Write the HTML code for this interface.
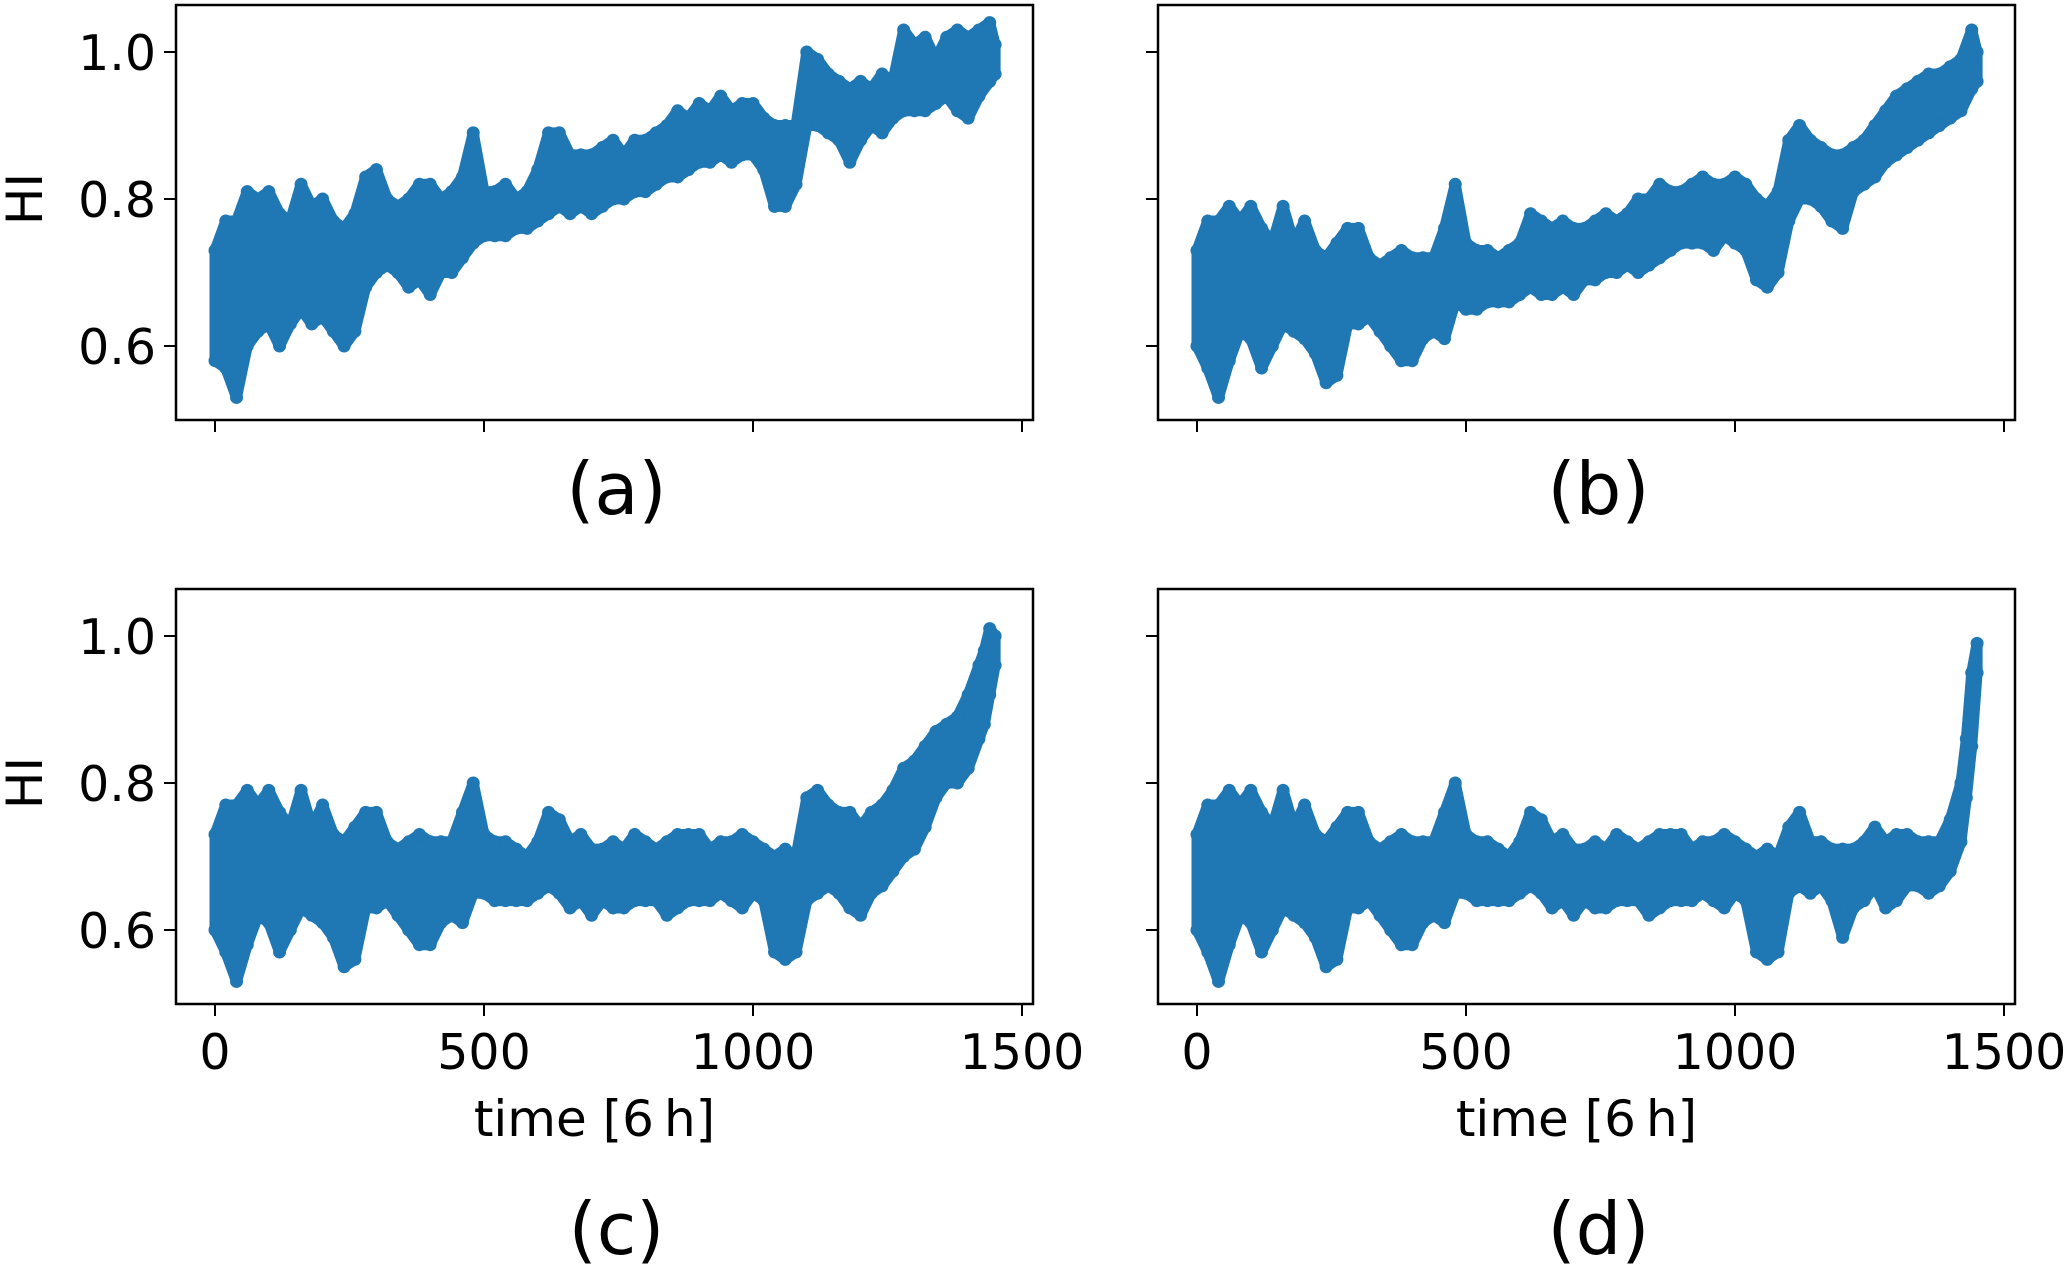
<!DOCTYPE html>
<html><head><meta charset="utf-8"><style>
html,body{margin:0;padding:0;background:#fff;}
svg{display:block;font-family:"DejaVu Sans","Liberation Sans",sans-serif;}
</style></head><body>
<svg id="fig" width="2067" height="1265" viewBox="0 0 2067 1265"></svg>
<script>
const timesA=[0,20,40,60,80,100,120,140,160,180,200,220,240,260,280,300,320,340,360,380,400,420,440,460,480,500,520,540,560,580,600,620,640,660,680,700,720,740,760,780,800,820,840,860,880,900,920,940,960,980,1000,1020,1040,1060,1080,1100,1120,1140,1160,1180,1200,1220,1240,1260,1280,1300,1320,1340,1360,1380,1400,1420,1440,1450];
const upperA=[0.73,0.77,0.77,0.81,0.80,0.81,0.78,0.77,0.82,0.79,0.80,0.77,0.76,0.78,0.83,0.84,0.80,0.79,0.80,0.82,0.82,0.80,0.81,0.83,0.89,0.81,0.81,0.82,0.80,0.81,0.84,0.89,0.89,0.86,0.86,0.86,0.87,0.88,0.86,0.88,0.88,0.89,0.90,0.92,0.91,0.93,0.92,0.94,0.92,0.93,0.93,0.91,0.90,0.90,0.90,1.00,0.99,0.97,0.96,0.95,0.96,0.95,0.97,0.96,1.03,1.01,1.02,0.99,1.02,1.03,1.02,1.03,1.04,1.01];
const lowerA=[0.58,0.57,0.53,0.60,0.62,0.63,0.60,0.63,0.65,0.63,0.64,0.62,0.60,0.62,0.68,0.70,0.71,0.70,0.68,0.69,0.67,0.70,0.70,0.72,0.74,0.75,0.75,0.75,0.76,0.76,0.77,0.78,0.79,0.78,0.79,0.78,0.79,0.80,0.80,0.81,0.81,0.82,0.83,0.83,0.84,0.85,0.85,0.86,0.85,0.86,0.86,0.84,0.79,0.79,0.82,0.90,0.90,0.89,0.88,0.85,0.88,0.90,0.89,0.91,0.92,0.92,0.92,0.93,0.94,0.92,0.91,0.94,0.96,0.97];

const timesB=[0,20,40,60,80,100,120,140,160,180,200,220,240,260,280,300,320,340,360,380,400,420,440,460,480,500,520,540,560,580,600,620,640,660,680,700,720,740,760,780,800,820,840,860,880,900,920,940,960,980,1000,1020,1040,1060,1080,1100,1120,1140,1160,1180,1200,1220,1240,1260,1280,1300,1320,1340,1360,1380,1400,1420,1440,1450];
const upperB=[0.73,0.77,0.77,0.79,0.77,0.79,0.76,0.74,0.79,0.74,0.77,0.73,0.72,0.74,0.76,0.76,0.72,0.71,0.72,0.73,0.72,0.72,0.72,0.76,0.82,0.74,0.73,0.73,0.72,0.73,0.74,0.78,0.77,0.76,0.77,0.76,0.76,0.77,0.78,0.77,0.78,0.80,0.80,0.82,0.81,0.81,0.82,0.83,0.82,0.82,0.83,0.82,0.80,0.79,0.81,0.88,0.90,0.88,0.87,0.86,0.86,0.87,0.88,0.90,0.92,0.94,0.95,0.96,0.97,0.97,0.98,0.99,1.03,1.00];
const lowerB=[0.60,0.57,0.53,0.58,0.62,0.61,0.57,0.60,0.63,0.62,0.61,0.59,0.55,0.56,0.63,0.63,0.64,0.62,0.60,0.58,0.58,0.61,0.62,0.61,0.66,0.65,0.65,0.66,0.66,0.66,0.67,0.68,0.67,0.67,0.68,0.67,0.69,0.69,0.70,0.70,0.71,0.70,0.71,0.72,0.73,0.74,0.74,0.74,0.73,0.75,0.74,0.73,0.69,0.68,0.70,0.77,0.80,0.80,0.79,0.77,0.76,0.81,0.82,0.83,0.85,0.86,0.87,0.88,0.89,0.90,0.91,0.92,0.95,0.96];

const timesC=[0,20,40,60,80,100,120,140,160,180,200,220,240,260,280,300,320,340,360,380,400,420,440,460,480,500,520,540,560,580,600,620,640,660,680,700,720,740,760,780,800,820,840,860,880,900,920,940,960,980,1000,1020,1040,1060,1080,1100,1120,1140,1160,1180,1200,1220,1240,1260,1280,1300,1320,1340,1360,1380,1400,1420,1430,1440,1450];
const upperC=[0.73,0.77,0.77,0.79,0.77,0.79,0.76,0.74,0.79,0.74,0.77,0.73,0.72,0.74,0.76,0.76,0.72,0.71,0.72,0.73,0.72,0.72,0.72,0.76,0.80,0.73,0.72,0.72,0.71,0.70,0.72,0.76,0.75,0.72,0.73,0.71,0.71,0.72,0.71,0.73,0.72,0.71,0.72,0.73,0.73,0.73,0.71,0.72,0.72,0.73,0.72,0.71,0.70,0.71,0.70,0.78,0.79,0.77,0.76,0.76,0.74,0.76,0.77,0.79,0.82,0.83,0.85,0.87,0.88,0.89,0.92,0.96,0.98,1.01,1.00];
const lowerC=[0.60,0.57,0.53,0.58,0.62,0.61,0.57,0.60,0.63,0.62,0.61,0.59,0.55,0.56,0.63,0.63,0.64,0.62,0.60,0.58,0.58,0.61,0.62,0.61,0.65,0.65,0.64,0.64,0.64,0.64,0.65,0.66,0.65,0.63,0.64,0.62,0.64,0.63,0.63,0.64,0.64,0.64,0.62,0.63,0.64,0.64,0.64,0.65,0.64,0.63,0.65,0.64,0.57,0.56,0.57,0.64,0.65,0.66,0.65,0.63,0.62,0.65,0.66,0.68,0.70,0.71,0.74,0.78,0.80,0.80,0.82,0.86,0.88,0.92,0.96];

const timesD=[0,20,40,60,80,100,120,140,160,180,200,220,240,260,280,300,320,340,360,380,400,420,440,460,480,500,520,540,560,580,600,620,640,660,680,700,720,740,760,780,800,820,840,860,880,900,920,940,960,980,1000,1020,1040,1060,1080,1100,1120,1140,1160,1180,1200,1220,1240,1260,1280,1300,1320,1340,1360,1380,1400,1420,1430,1440,1450];
const upperD=[0.73,0.77,0.77,0.79,0.77,0.79,0.76,0.74,0.79,0.74,0.77,0.73,0.72,0.74,0.76,0.76,0.72,0.71,0.72,0.73,0.72,0.72,0.72,0.76,0.80,0.73,0.72,0.72,0.71,0.70,0.72,0.76,0.75,0.72,0.73,0.71,0.71,0.72,0.71,0.73,0.72,0.71,0.72,0.73,0.73,0.73,0.71,0.72,0.72,0.73,0.72,0.71,0.70,0.71,0.70,0.74,0.76,0.72,0.72,0.71,0.71,0.71,0.72,0.74,0.72,0.73,0.73,0.72,0.72,0.72,0.75,0.80,0.86,0.95,0.99];
const lowerD=[0.60,0.57,0.53,0.58,0.62,0.61,0.57,0.60,0.63,0.62,0.61,0.59,0.55,0.56,0.63,0.63,0.64,0.62,0.60,0.58,0.58,0.61,0.62,0.61,0.65,0.65,0.64,0.64,0.64,0.64,0.65,0.66,0.65,0.63,0.64,0.62,0.64,0.63,0.63,0.64,0.64,0.64,0.62,0.63,0.64,0.64,0.64,0.65,0.64,0.63,0.65,0.64,0.57,0.56,0.57,0.65,0.66,0.65,0.66,0.64,0.59,0.63,0.64,0.66,0.63,0.64,0.66,0.66,0.65,0.66,0.68,0.72,0.78,0.85,0.95];

const xTicks=[0,500,1000,1500];
const xTickLabels=["0","500","1000","1500"];
const yTicks=[0.6,0.8,1.0];
const yTickLabels=["0.6","0.8","1.0"];
const panelLetters=["(a)","(b)","(c)","(d)"];

const NS="http://www.w3.org/2000/svg";
const svg=document.getElementById('fig');
function mk(tag,attrs,parent){const e=document.createElementNS(NS,tag);for(const k in attrs)e.setAttribute(k,attrs[k]);(parent||svg).appendChild(e);return e;}
const COLOR="#1f77b4";
const panels=[
 {t:timesA,u:upperA,l:lowerA,x0:176,y0:5,row:0,col:0,name:"panel-a"},
 {t:timesB,u:upperB,l:lowerB,x0:1158,y0:5,row:0,col:1,name:"panel-b"},
 {t:timesC,u:upperC,l:lowerC,x0:176,y0:589,row:1,col:0,name:"panel-c"},
 {t:timesD,u:upperD,l:lowerD,x0:1158,y0:589,row:1,col:1,name:"panel-d"}];
const W=857,H=415;
panels.forEach((p,i)=>{
  const g=mk('g',{});
  
  
  const xs=v=>p.x0+39+v*(807/1500);
  const ys=v=>p.y0+47+(1.0-v)*735;
  const pts=p.t.map((t,k)=>xs(t)+','+ys(p.u[k])).concat(p.t.map((t,k)=>xs(t)+','+ys(p.l[k])).reverse());
  const band=mk('polygon',{points:pts.join(' '),fill:COLOR,stroke:COLOR,'stroke-width':11,'stroke-linejoin':'round'},g);
  
  
  p.t.forEach((t,k)=>{
    [p.u[k],p.l[k]].forEach(v=>{
      const c=mk('circle',{cx:xs(t),cy:ys(v),r:6.5,fill:COLOR},g);
      
      
    });
  });
  const fr=mk('rect',{x:p.x0,y:p.y0,width:W,height:H,fill:'none',stroke:'#000','stroke-width':2.5},g);
  
  
  xTicks.forEach((v,k)=>{
    const tk=mk('line',{x1:xs(v),x2:xs(v),y1:p.y0+H,y2:p.y0+H+12,stroke:'#000','stroke-width':2},g);
    
    
    if(p.row===1){
      const tl=mk('text',{x:xs(v),y:p.y0+H+65,'font-size':49,'text-anchor':'middle',fill:'#000'},g);
      tl.textContent=xTickLabels[k];
      
      
    }
  });
  yTicks.forEach((v,k)=>{
    const tk=mk('line',{x1:p.x0-12,x2:p.x0,y1:ys(v),y2:ys(v),stroke:'#000','stroke-width':2},g);
    
    
    if(p.col===0){
      const tl=mk('text',{x:p.x0-20,y:ys(v)+18,'font-size':49,'text-anchor':'end',fill:'#000'},g);
      tl.textContent=yTickLabels[k];
      
      
    }
  });
  if(p.col===0){
    const yl=mk('text',{x:0,y:0,'font-size':50,'text-anchor':'middle',fill:'#000',transform:`translate(42,${p.y0+194}) rotate(-90)`},g);
    yl.textContent='HI';
    
    
  }
  if(p.row===1){
    const xl=mk('text',{x:p.x0+W/2-10,y:p.y0+H+132,'font-size':50,'text-anchor':'middle',fill:'#000'},g);
    xl.textContent='time [6\u2009h]';
    
    
  }
  const cap=mk('text',{x:p.x0+W/2+12,y:p.row===0?514:1254,'font-size':72,'text-anchor':'middle',fill:'#000'},g);
  cap.textContent=panelLetters[i];
  
  
});
</script>
</body></html>
